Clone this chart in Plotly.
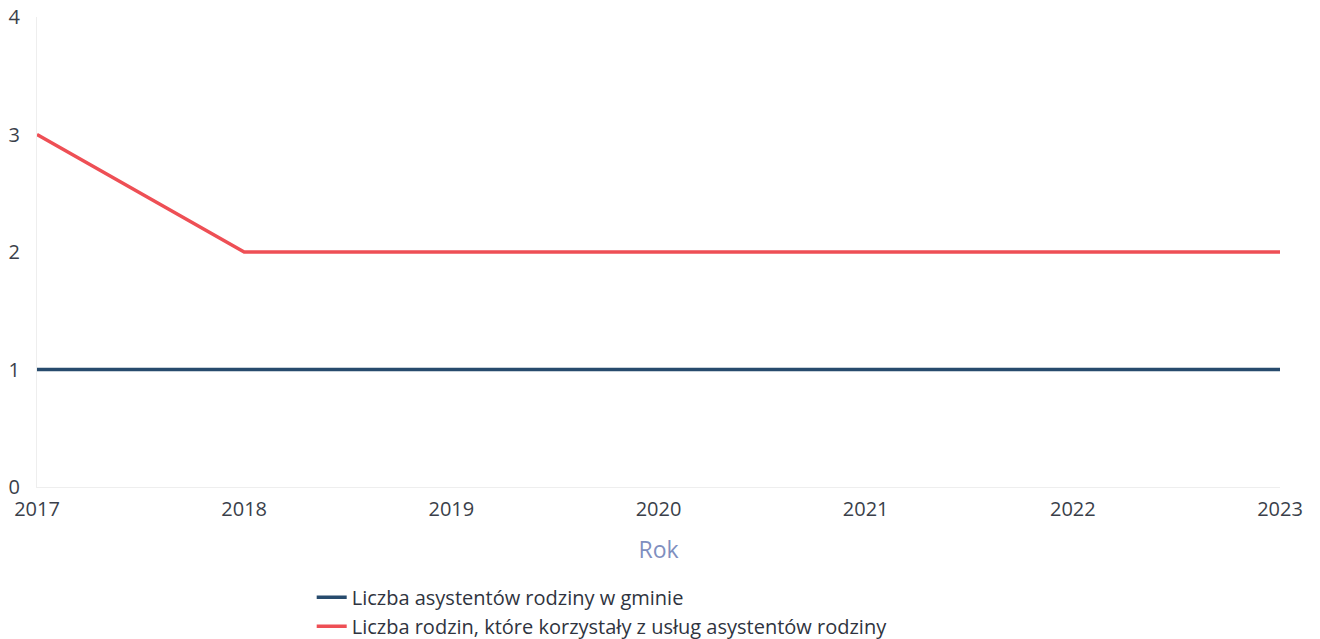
import plotly.graph_objects as go

years = ["2017", "2018", "2019", "2020", "2021", "2022", "2023"]
asystenci = [1, 1, 1, 1, 1, 1, 1]
rodziny = [3, 2, 2, 2, 2, 2, 2]

fig = go.Figure()
fig.add_trace(go.Scatter(x=years, y=asystenci, mode="lines",
                         name="Liczba asystentów rodziny w gminie",
                         line=dict(color="#274b6d", width=3.5)))
fig.add_trace(go.Scatter(x=years, y=rodziny, mode="lines",
                         name="Liczba rodzin, które korzystały z usług asystentów rodziny",
                         line=dict(color="#ee4f55", width=3.5)))

fig.update_layout(
    width=1320, height=639,
    margin=dict(l=37, r=40, t=17, b=152, autoexpand=False),
    plot_bgcolor="white", paper_bgcolor="white",
    font=dict(family="Open Sans", size=20, color="#3a3f4a"),
    showlegend=True,
    legend=dict(x=0.221, y=-0.193, xanchor="left", yanchor="top",
                orientation="v", font=dict(size=20, color="#2f3440"),
                tracegroupgap=0, itemwidth=30),
)
fig.update_xaxes(type="category", range=[0, 6], showgrid=False, automargin=False,
                 showline=True, linecolor="#eeeeee",
                 title=dict(text="Rok", font=dict(size=23, color="#7f8fbf"), standoff=20),
                 ticks="", ticklabelstandoff=4)
fig.update_yaxes(range=[0, 4], dtick=1, showgrid=False, zeroline=False, automargin=False,
                 showline=True, linecolor="#eeeeee", ticks="", ticklabelstandoff=12)

# page body has a default 8px margin, drop it so the figure fills the window
fig.write_html("out.html", config={"displayModeBar": False},
               post_script="document.body.style.margin = '0';")
